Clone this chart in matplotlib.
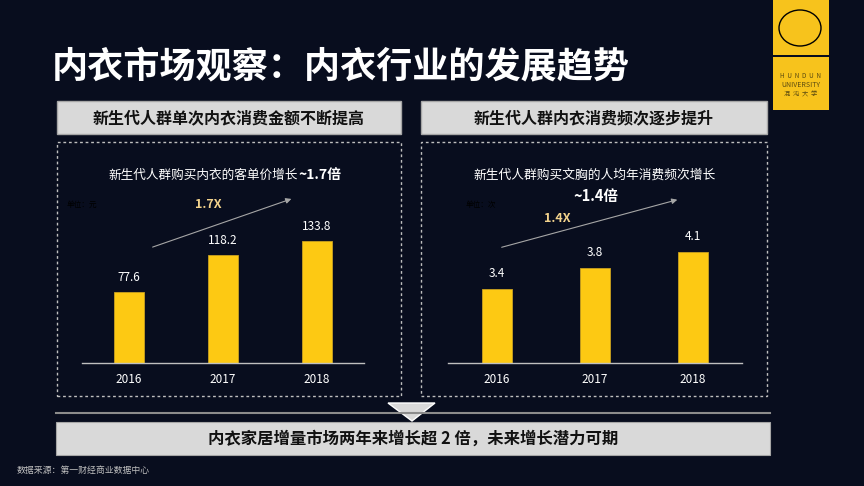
import numpy as np
import matplotlib
matplotlib.use("Agg")
import matplotlib.pyplot as plt
from matplotlib.patches import Rectangle, Polygon, Ellipse, FancyArrowPatch

plt.rcParams['font.family'] = ['Noto Sans CJK SC', 'DejaVu Sans']

# --- data ---
years = ['2016', '2017', '2018']
price = [77.6, 118.2, 133.8]      # 客单价, 元
freq = [3.4, 3.8, 4.1]            # 消费频次, 次

title = "内衣市场观察：内衣行业的发展趋势"
head_left = "新生代人群单次内衣消费金额不断提高"
head_right = "新生代人群内衣消费频次逐步提升"
sub_left = "新生代人群购买内衣的客单价增长"
sub_left_bold = "~1.7倍"
sub_right = "新生代人群购买文胸的人均年消费频次增长"
sub_right_bold = "~1.4倍"
mult_left = "1.7X"
mult_right = "1.4X"
unit_left = "单位：元"
unit_right = "单位：次"
bottom_msg = "内衣家居增量市场两年来增长超 2 倍，未来增长潜力可期"
source = "数据来源：第一财经商业数据中心"

BG = '#080d1e'
GOLD = '#fdc913'
LIGHT = '#d9d9d9'

W, H = 864, 486
fig = plt.figure(figsize=(W / 100, H / 100), dpi=100, facecolor=BG)


def fx(x):
    return x / W


def fy(y):
    return 1 - y / H


def box(x0, y0, x1, y1, **kw):
    r = Rectangle((fx(x0), fy(y1)), fx(x1) - fx(x0), fy(y0) - fy(y1),
                  transform=fig.transFigure, **kw)
    fig.add_artist(r)
    return r


def txt(x, y, s, **kw):
    kw.setdefault('ha', 'center')
    kw.setdefault('va', 'center')
    return fig.text(fx(x), fy(y), s, **kw)


# title
txt(52, 67, title, ha='left', fontsize=26, fontweight='bold', color='white')

# logo
box(773, 0, 829, 55, facecolor='#f7c31c', edgecolor='none')
box(773, 57, 829, 110, facecolor='#f7c31c', edgecolor='none')
fig.add_artist(Ellipse((fx(800), fy(28)), 42 / W, 36 / H, transform=fig.transFigure,
                       facecolor='none', edgecolor='black', lw=1.0))
txt(801, 76, "H  U  N  D  U  N", fontsize=4.5, color='#5a4a10')
txt(801, 85, "UNIVERSITY", fontsize=5, color='#5a4a10')
txt(801, 95, "混  沌  大  学", fontsize=4.5, color='#5a4a10')

# header boxes
for x0, x1, s in [(57, 401, head_left), (421, 767, head_right)]:
    box(x0, 101, x1, 134, facecolor=LIGHT, edgecolor='#a6a6a6', lw=1)
    txt((x0 + x1) / 2, 118, s, fontsize=11.5, fontweight='bold', color='#111111')
    box(x0, 142, x1, 396, facecolor='none', edgecolor='#bfbfbf', lw=1,
        linestyle=(0, (2, 2)))


def bar_panel(left, width, values, ymin, pxu, fmt):
    bottom_px = 363
    top_px = 150
    ax = fig.add_axes([fx(left), fy(bottom_px), width / W, (bottom_px - top_px) / H])
    ax.set_facecolor('none')
    x = np.arange(len(values))
    ax.bar(x, [v - ymin for v in values], bottom=ymin, width=30 / (width / 3),
           color=GOLD, edgecolor='#c9a020', linewidth=0.6)
    ax.set_xlim(-0.5, 2.5)
    ax.set_ylim(ymin, ymin + (bottom_px - top_px) / pxu)
    for xi, v in zip(x, values):
        ax.annotate(fmt.format(v), (xi, v), xytext=(0, 6), textcoords='offset points',
                    ha='center', va='bottom', color='white', fontsize=8.5)
    ax.set_xticks(x)
    ax.set_xticklabels(years, color='white', fontsize=8.5)
    ax.tick_params(length=0, pad=7)
    ax.set_yticks([])
    for sp in ['top', 'left', 'right']:
        ax.spines[sp].set_visible(False)
    ax.spines['bottom'].set_color('#bfbfbf')
    ax.spines['bottom'].set_linewidth(1)
    return ax


bar_panel(82, 282, price, 0, 0.913, "{:.1f}")
bar_panel(448, 294, freq, 2.0, 53, "{:.1f}")

# subtitles
txt(108, 175, sub_left, ha='left', fontsize=9.1, color='white')
txt(299, 175, sub_left_bold, ha='left', fontsize=10, fontweight='bold', color='white')
txt(595, 175, sub_right, fontsize=9.2, color='white')
txt(596, 196, sub_right_bold, fontsize=10.5, fontweight='bold', color='white')

# units (dark text, barely visible)
txt(67, 205, unit_left, ha='left', fontsize=5.5, color='black')
txt(466, 205, unit_right, ha='left', fontsize=5.5, color='black')

# growth arrows
for (x0, y0), (x1, y1), (mx, my), s in [((150, 248), (294, 198), (208, 204), mult_left),
                                        ((499, 248), (680, 199), (557, 218), mult_right)]:
    fig.add_artist(FancyArrowPatch((fx(x0), fy(y0)), (fx(x1), fy(y1)),
                                   transform=fig.transFigure, arrowstyle='-|>',
                                   mutation_scale=8, color='#a6a6a6', lw=0.8))
    txt(mx, my, s, fontsize=9, fontweight='bold', color='#f2d28c')

# divider + triangle
fig.add_artist(plt.Line2D([fx(56), fx(770)], [fy(413), fy(413)],
                          transform=fig.transFigure, color='#8c8c8c', lw=1.5))
fig.add_artist(Polygon([(fx(388), fy(403)), (fx(435), fy(403)), (fx(412), fy(421))],
                       closed=True, transform=fig.transFigure,
                       facecolor=LIGHT, edgecolor='white', lw=1))

# bottom message
box(56, 422, 770, 455, facecolor=LIGHT, edgecolor='#a6a6a6', lw=0.8)
txt(413, 439, bottom_msg, fontsize=11.8, fontweight='bold', color='#111111')

# source
txt(17, 470, source, ha='left', fontsize=6.4, color='#bfbfbf')

fig.savefig('out.png', dpi=100, facecolor=BG)
